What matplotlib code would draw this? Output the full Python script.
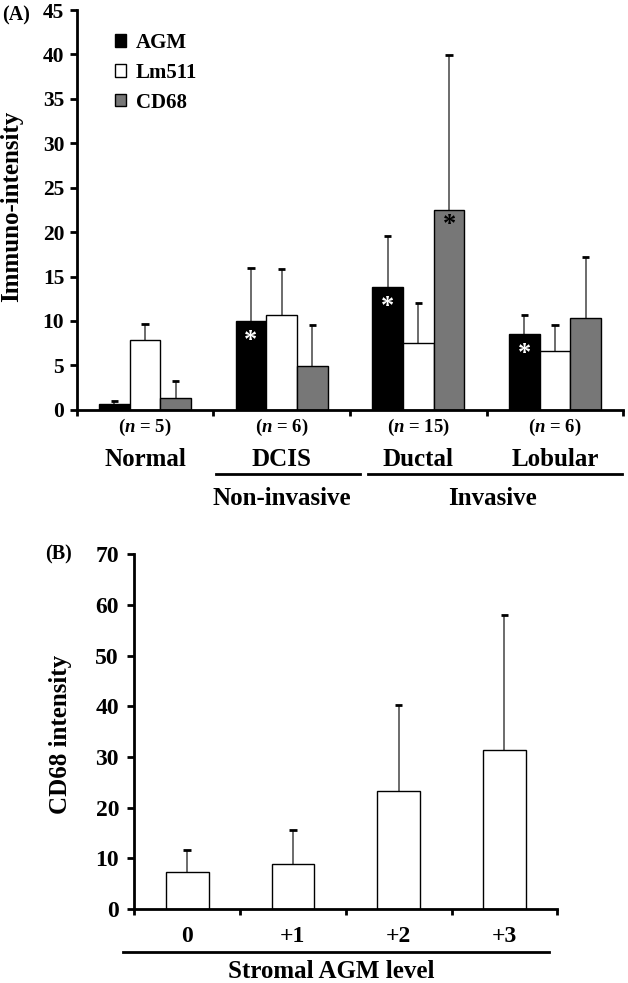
import matplotlib.pyplot as plt
import matplotlib.patches as patches
import matplotlib.transforms as mtransforms
import numpy as np

plt.rcParams['font.family'] = ['Liberation Serif', 'DejaVu Serif']
plt.rcParams['font.weight'] = 'bold'
plt.rcParams['mathtext.fontset'] = 'custom'
plt.rcParams['mathtext.it'] = 'Liberation Serif:italic:bold'
plt.rcParams['mathtext.rm'] = 'Liberation Serif:bold'

# Panel A data
groups = ['Normal', 'DCIS', 'Ductal', 'Lobular']
n_counts = [5, 6, 15, 6]
series = ['AGM', 'Lm511', 'CD68']
agm = [0.65, 10.0, 13.85, 8.55]
agm_sd = [0.35, 6.0, 5.7, 2.1]
lm511 = [7.9, 10.7, 7.5, 6.65]
lm511_sd = [1.8, 5.2, 4.55, 2.95]
cd68 = [1.35, 4.95, 22.5, 10.3]
cd68_sd = [1.9, 4.55, 17.4, 6.9]
agm_sig = [False, True, True, True]
cd68_sig = [False, False, True, False]
spans = ['Non-invasive', 'Invasive']

# Panel B data
levels = ['0', '+1', '+2', '+3']
cd68_level = [7.25, 8.9, 23.3, 31.3]
cd68_level_sd = [4.35, 6.75, 17.0, 26.8]

W, H = 628, 983
fig = plt.figure(figsize=(W / 100, H / 100), dpi=100)


def fy(px):
    return 1 - px / H


def fx(px):
    return px / W


def upper_err(ax, xs, vals, sds, cap=0.04):
    # error bars going up only, with a cap at the top
    tops = np.array(vals) + np.array(sds)
    ax.vlines(xs, vals, tops, color='#444444', lw=1.1, zorder=1)
    ax.hlines(tops, np.array(xs) - cap, np.array(xs) + cap, color='black', lw=2, zorder=1)


axA = fig.add_axes([fx(76.7), fy(409.8), fx(623.3) - fx(76.7), fy(10) - fy(409.8)])
axB = fig.add_axes([fx(134.3), fy(909), fx(557.3) - fx(134.3), fy(554.3) - fy(909)])

for ax in (axA, axB):
    for s in ('top', 'right'):
        ax.spines[s].set_visible(False)
    for s in ('left', 'bottom'):
        ax.spines[s].set_linewidth(2)
    ax.set_xlim(-0.5, 3.5)
    ax.set_xticks(np.arange(-0.5, 4, 1))
    ax.set_xticklabels([])
    ax.tick_params(axis='x', direction='out', length=4, width=2)
    ax.tick_params(axis='y', direction='out', length=5, width=2)

# ---- Panel A ----
x = np.arange(len(groups))
bw = 0.225
colors = ['black', 'white', '#777777']
vals = [agm, lm511, cd68]
sds = [agm_sd, lm511_sd, cd68_sd]
for i, (v, sd, c) in enumerate(zip(vals, sds, colors)):
    xi = x + (i - 1) * bw
    axA.bar(xi, v, bw, color=c, edgecolor='black', linewidth=1, label=series[i], zorder=2)
    upper_err(axA, xi, v, sd, cap=0.027)

for i in range(len(groups)):
    if agm_sig[i]:
        axA.text(x[i] - bw, agm[i] - 2.2, '*', color='white', fontsize=19,
                 ha='center', va='center', zorder=3)
    if cd68_sig[i]:
        axA.text(x[i] + bw, cd68[i] - 1.6, '*', color='black', fontsize=19,
                 ha='center', va='center', zorder=3)

axA.set_ylim(0, 45)
axA.set_yticks(np.arange(0, 46, 5))
axA.tick_params(axis='y', labelsize=15.5, pad=4)
axA.set_ylabel('Immuno-intensity', fontsize=18, fontweight='bold')
axA.yaxis.set_label_coords(-0.098, 0.51)

handles = [patches.Patch(facecolor=c, edgecolor='black', linewidth=1) for c in colors]
axA.legend(handles, series, loc='upper left', bbox_to_anchor=(fx(115), fy(33)),
           bbox_transform=fig.transFigure, frameon=False, fontsize=15,
           handlelength=0.55, handleheight=0.55, handletextpad=0.45,
           labelspacing=0.47, borderpad=0, borderaxespad=0)

trA = mtransforms.blended_transform_factory(axA.transData, fig.transFigure)
for i, g in enumerate(groups):
    axA.text(x[i], fy(427.7), f'($n$ = {n_counts[i]})', transform=trA, fontsize=13.5,
             ha='center', va='center')
    axA.text(x[i], fy(459.3), g, transform=trA, fontsize=18, ha='center', va='center')

span_lims = [(0.52, 1.57), (1.63, 3.49)]
span_centers = [1.0, 2.54]
for (a, b), c, lab in zip(span_lims, span_centers, spans):
    axA.plot([a, b], [fy(474), fy(474)], color='black', lw=2, transform=trA, clip_on=False)
    axA.text(c, fy(498.3), lab, transform=trA, fontsize=18, ha='center', va='center')

fig.text(fx(2), fy(15), '(A)', fontsize=14.5, ha='left', va='center')

# ---- Panel B ----
xb = np.arange(len(levels))
axB.bar(xb, cd68_level, 0.404, color='white', edgecolor='black', linewidth=1, zorder=2)
upper_err(axB, xb, cd68_level, cd68_level_sd, cap=0.035)
axB.set_ylim(0, 70)
axB.set_yticks(np.arange(0, 71, 10))
axB.tick_params(axis='y', labelsize=17, pad=6)
axB.set_ylabel('CD68 intensity', fontsize=18, fontweight='bold')
axB.yaxis.set_label_coords(-0.147, 0.493)

trB = mtransforms.blended_transform_factory(axB.transData, fig.transFigure)
for i, lv in enumerate(levels):
    axB.text(xb[i], fy(936.7), lv, transform=trB, fontsize=17, ha='center', va='center')
axB.plot([-0.61, 3.42], [fy(952.3), fy(952.3)], color='black', lw=2, transform=trB,
         clip_on=False)
axB.text(1.36, fy(972), 'Stromal AGM level', transform=trB, fontsize=18,
         ha='center', va='center')

fig.text(fx(45), fy(554), '(B)', fontsize=14.5, ha='left', va='center')

plt.savefig('out.png', dpi=100)
